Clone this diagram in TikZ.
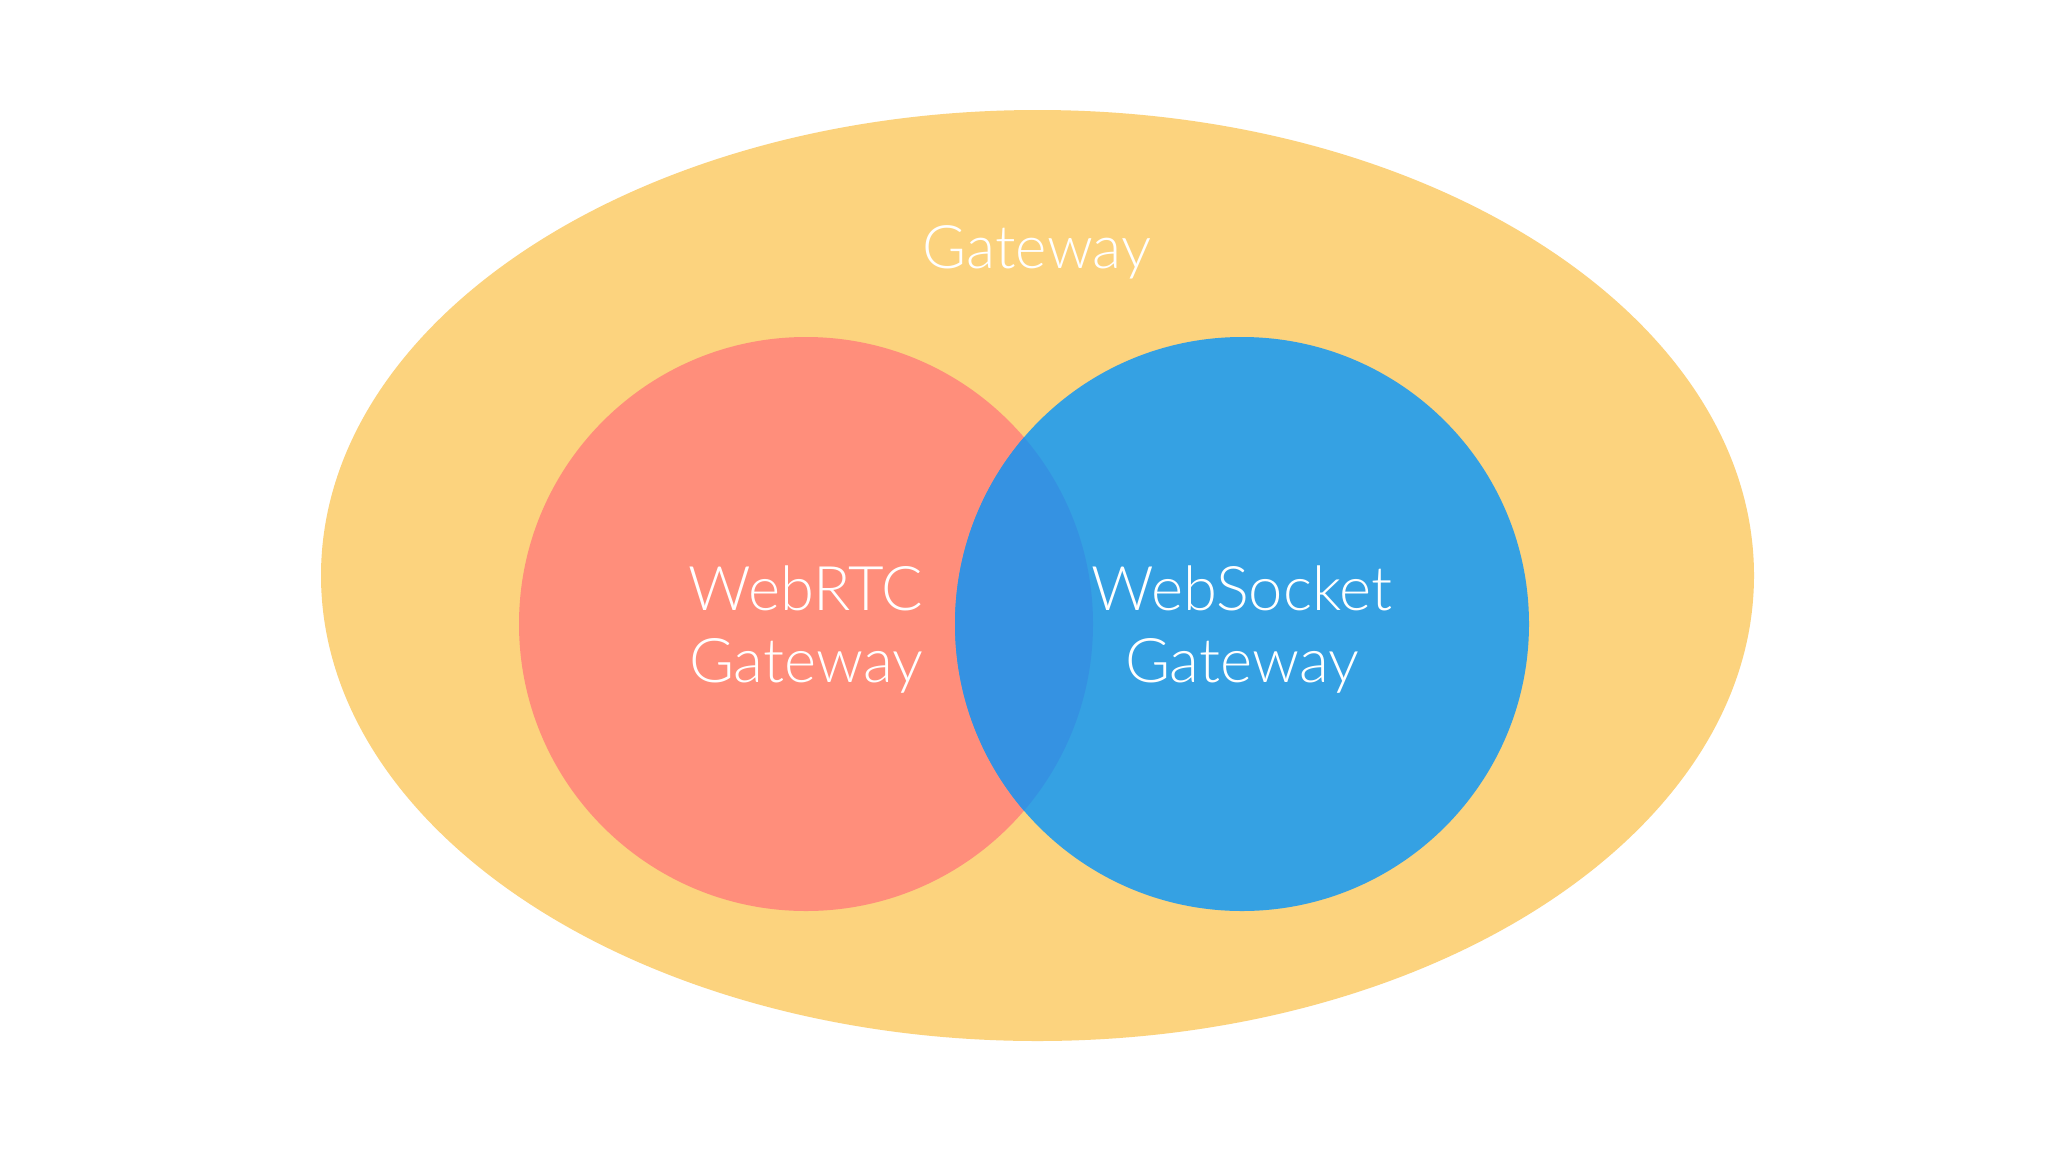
\documentclass[tikz,border=0pt]{standalone}
\usepackage{fontspec}
\setmainfont{Lato}[UprightFont=* Light]
\definecolor{gwyellow}{HTML}{FCD37E}
\definecolor{rtcred}{HTML}{FF8E7B}
\definecolor{wsblue}{HTML}{35A1E3}
\definecolor{ovblue}{HTML}{3592E2}
\begin{document}
\begin{tikzpicture}[x=1pt,y=-1pt,
  lbl/.style={text=white, align=center, inner sep=0pt, font=\fontsize{61.5}{72}\selectfont},
  toplbl/.style={text=white, inner sep=0pt, font=\fontsize{60}{68}\selectfont}]
\fill[white] (0,0) rectangle (2048,1152);
\useasboundingbox (0,0) rectangle (2048,1152);
\fill[gwyellow] (1037.5,575.5) ellipse [x radius=716.5, y radius=465.5];
\fill[rtcred] (806,624) circle [radius=287];
\fill[wsblue] (1242,624) circle [radius=287];
\begin{scope}
\clip (806,624) circle [radius=287];
\fill[ovblue] (1242,624) circle [radius=287];
\end{scope}
\node[toplbl, anchor=base] (gw) at (1037,268) {Gateway};
\node[lbl, anchor=base] (rtc) at (806,682) {WebRTC\\Gateway};
\node[lbl, anchor=base] (ws) at (1242,682) {WebSocket\\Gateway};
\end{tikzpicture}
\end{document}
